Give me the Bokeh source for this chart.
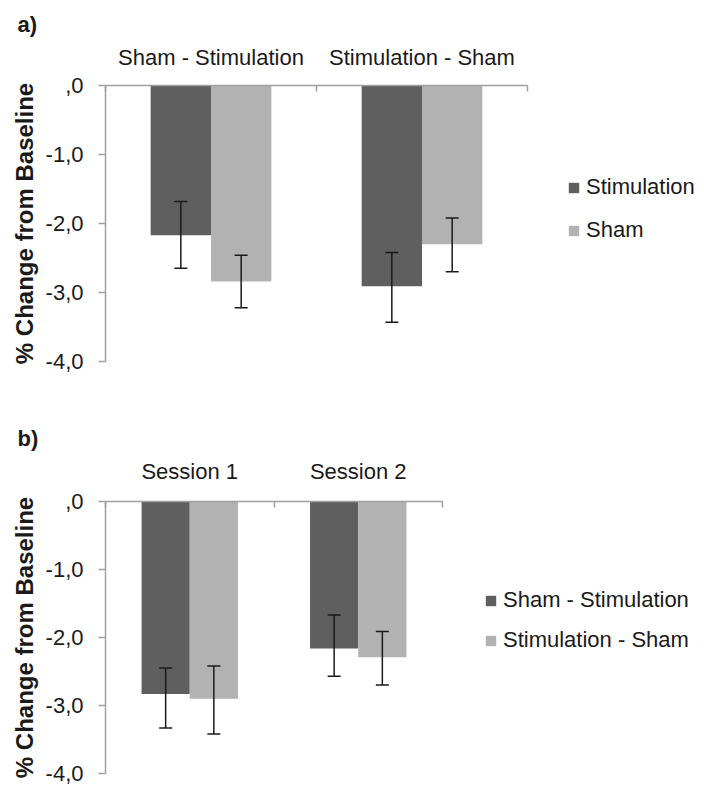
from bokeh.plotting import figure
from bokeh.models import (Range1d, LinearAxis, FixedTicker, Whisker, TeeHead,
                          ColumnDataSource, Legend, LegendItem, Grid)
from bokeh.layouts import column
from bokeh.embed import file_html
from bokeh.resources import INLINE

# ---------------- data ----------------
tick_values = [0, -1, -2, -3, -4]
tick_labels = [",0", "-1,0", "-2,0", "-3,0", "-4,0"]
y_label = "% Change from Baseline"

# panel a)
cats_a = ["Sham - Stimulation", "Stimulation - Sham"]
series_a = ["Stimulation", "Sham"]
stim_a = [-2.17, -2.91]
stim_a_upper = [-1.68, -2.42]
stim_a_lower = [-2.65, -3.43]
sham_a = [-2.84, -2.30]
sham_a_upper = [-2.46, -1.92]
sham_a_lower = [-3.22, -2.70]

# panel b)
cats_b = ["Session 1", "Session 2"]
series_b = ["Sham - Stimulation", "Stimulation - Sham"]
shamstim_b = [-2.83, -2.16]
shamstim_b_upper = [-2.45, -1.67]
shamstim_b_lower = [-3.33, -2.57]
stimsham_b = [-2.90, -2.29]
stimsham_b_upper = [-2.42, -1.91]
stimsham_b_lower = [-3.42, -2.70]

DARK = "#5f5f5f"
LIGHT = "#b2b2b2"
AXIS = "#a0a0a0"
TEXT = "#1a1a1a"
FONT = "Liberation Sans"


def make_panel(letter, cats, series, v1, u1, l1, v2, u2, l2,
               frame_w, frame_h, mb_top, mb_bottom, mb_right, cat_standoff,
               legend_loc, legend_spacing):
    p = figure(frame_width=frame_w, frame_height=frame_h, output_backend="svg",
               toolbar_location=None, x_axis_location=None, y_axis_location=None,
               x_range=Range1d(0, len(cats)), y_range=Range1d(-4, 0),
               min_border_left=105, min_border_right=mb_right,
               min_border_top=mb_top, min_border_bottom=mb_bottom,
               title=letter)
    for r in list(p.center):
        if isinstance(r, Grid):
            r.visible = False
    p.outline_line_color = None
    p.background_fill_color = "white"
    p.border_fill_color = "white"
    p.title.text_font = FONT
    p.title.text_font_size = "22px"
    p.title.text_font_style = "bold"
    p.title.text_color = TEXT
    p.title.align = "left"
    p.title.offset = -88

    bw = 0.286
    centers = [i + 0.5 for i in range(len(cats))]
    x1 = [c - bw / 2 for c in centers]
    x2 = [c + bw / 2 for c in centers]

    r1 = p.vbar(x=x1, top=v1, bottom=0, width=bw, fill_color=DARK, line_color=None)
    r2 = p.vbar(x=x2, top=v2, bottom=0, width=bw, fill_color=LIGHT, line_color=None)

    for xs, up, lo in ((x1, u1, l1), (x2, u2, l2)):
        src = ColumnDataSource(dict(base=xs, upper=up, lower=lo))
        w = Whisker(base="base", upper="upper", lower="lower", source=src,
                    dimension="height", line_color=TEXT, line_width=1.5,
                    level="overlay",
                    upper_head=TeeHead(size=13, line_color=TEXT, line_width=1.5),
                    lower_head=TeeHead(size=13, line_color=TEXT, line_width=1.5))
        p.add_layout(w)

    yaxis = LinearAxis(ticker=FixedTicker(ticks=tick_values),
                       major_label_overrides=dict(zip(tick_values, tick_labels)),
                       axis_label=y_label)
    yaxis.axis_line_color = AXIS
    yaxis.axis_line_width = 1.5
    yaxis.major_tick_line_color = AXIS
    yaxis.major_tick_line_width = 1.5
    yaxis.major_tick_out = 7
    yaxis.major_tick_in = 0
    yaxis.minor_tick_line_color = None
    yaxis.major_label_standoff = 15
    yaxis.major_label_text_font = FONT
    yaxis.major_label_text_font_size = "22px"
    yaxis.major_label_text_color = TEXT
    yaxis.axis_label_text_font = FONT
    yaxis.axis_label_text_font_size = "24px"
    yaxis.axis_label_text_font_style = "bold"
    yaxis.axis_label_text_color = TEXT
    yaxis.axis_label_standoff = 5
    p.add_layout(yaxis, "left")

    xaxis = LinearAxis(ticker=FixedTicker(ticks=centers,
                                          minor_ticks=list(range(len(cats) + 1))),
                       major_label_overrides=dict(zip(centers, cats)))
    xaxis.axis_line_color = AXIS
    xaxis.axis_line_width = 1.5
    xaxis.major_tick_line_color = None
    xaxis.major_tick_out = 0
    xaxis.major_tick_in = 0
    xaxis.minor_tick_line_color = AXIS
    xaxis.minor_tick_line_width = 1.5
    xaxis.minor_tick_in = 6
    xaxis.minor_tick_out = 0
    xaxis.major_label_standoff = cat_standoff
    xaxis.major_label_text_font = FONT
    xaxis.major_label_text_font_size = "22px"
    xaxis.major_label_text_color = TEXT
    p.add_layout(xaxis, "above")

    legend = Legend(items=[LegendItem(label=series[0], renderers=[r1]),
                           LegendItem(label=series[1], renderers=[r2])],
                    location=legend_loc, orientation="vertical",
                    glyph_width=13, glyph_height=13, label_height=13,
                    label_standoff=6, spacing=legend_spacing,
                    padding=0, margin=0, border_line_color=None,
                    background_fill_alpha=0,
                    label_text_font=FONT, label_text_font_size="22px",
                    label_text_color=TEXT)
    p.add_layout(legend, "right")
    return p


pa = make_panel("a)", cats_a, series_a, stim_a, stim_a_upper, stim_a_lower,
                sham_a, sham_a_upper, sham_a_lower,
                frame_w=422, frame_h=276, mb_top=85, mb_bottom=29, mb_right=177,
                cat_standoff=16, legend_loc=(40, 118), legend_spacing=17)
pb = make_panel("b)", cats_b, series_b, shamstim_b, shamstim_b_upper, shamstim_b_lower,
                stimsham_b, stimsham_b_upper, stimsham_b_lower,
                frame_w=337, frame_h=272, mb_top=111, mb_bottom=14, mb_right=262,
                cat_standoff=18, legend_loc=(42, 120), legend_spacing=14)

layout = column(pa, pb, spacing=0)
open("out.html", "w").write(file_html(layout, INLINE))
